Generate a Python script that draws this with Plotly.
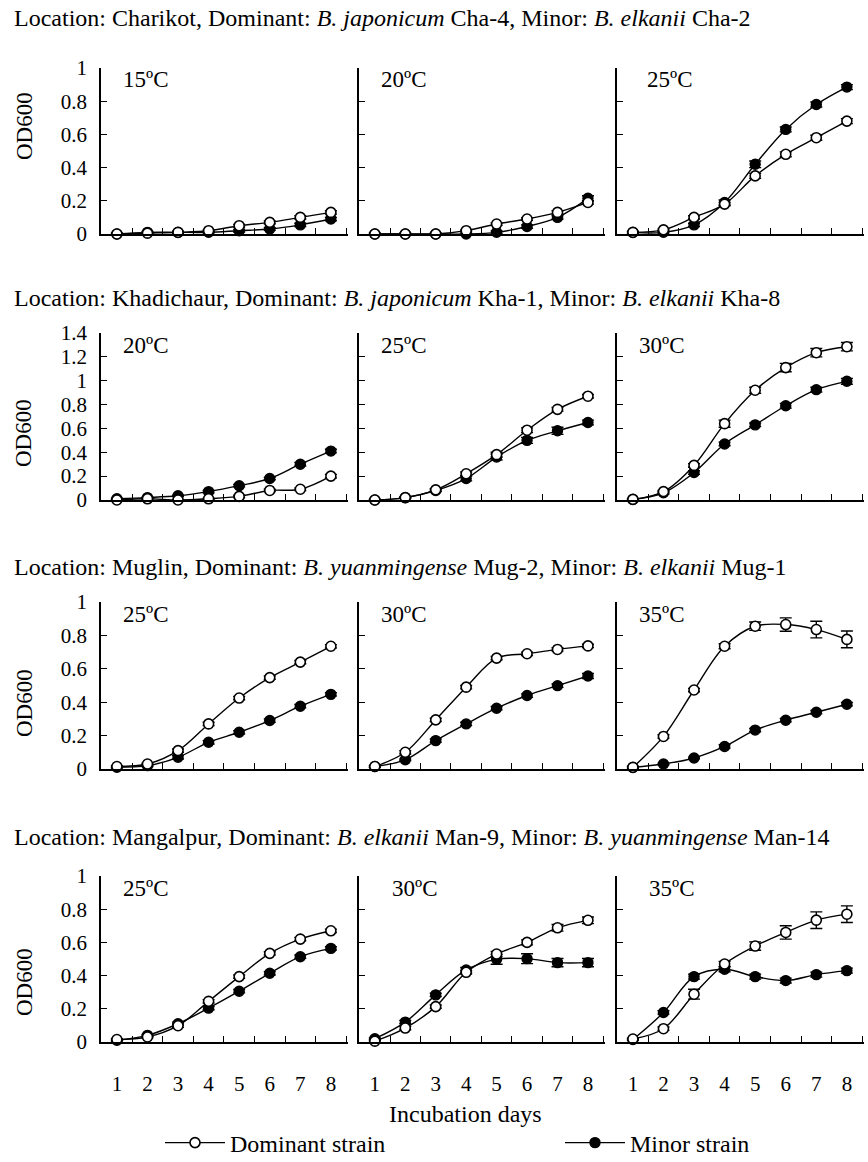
import plotly.graph_objects as go

# ---------------- data ----------------
days = ["1", "2", "3", "4", "5", "6", "7", "8"]

row_titles = [
    "Location: Charikot, Dominant: <i>B. japonicum</i> Cha-4, Minor: <i>B. elkanii</i> Cha-2",
    "Location: Khadichaur, Dominant: <i>B. japonicum</i> Kha-1, Minor: <i>B. elkanii</i> Kha-8",
    "Location: Muglin, Dominant: <i>B. yuanmingense</i> Mug-2, Minor: <i>B. elkanii</i> Mug-1",
    "Location: Mangalpur, Dominant: <i>B. elkanii</i> Man-9, Minor: <i>B. yuanmingense</i> Man-14",
]
temps = [
    ["15ºC", "20ºC", "25ºC"],
    ["20ºC", "25ºC", "30ºC"],
    ["25ºC", "30ºC", "35ºC"],
    ["25ºC", "30ºC", "35ºC"],
]
y_max = [1.0, 1.4, 1.0, 1.0]

# Charikot
cha15_dom = [0.00, 0.005, 0.01, 0.02, 0.05, 0.07, 0.10, 0.13]
cha15_min = [0.00, 0.01, 0.01, 0.01, 0.02, 0.03, 0.055, 0.09]
cha20_dom = [0.00, 0.00, 0.00, 0.02, 0.06, 0.09, 0.13, 0.19]
cha20_min = [0.00, 0.00, 0.00, 0.00, 0.01, 0.045, 0.10, 0.215]
cha25_dom = [0.01, 0.025, 0.10, 0.18, 0.35, 0.48, 0.58, 0.68]
cha25_min = [0.01, 0.01, 0.055, 0.19, 0.42, 0.63, 0.78, 0.885]
cha15_dom_err = [0.005, 0.005, 0.005, 0.005, 0.008, 0.008, 0.010, 0.010]
cha15_min_err = [0.005, 0.005, 0.005, 0.005, 0.008, 0.008, 0.010, 0.010]
cha20_dom_err = [0.005, 0.005, 0.005, 0.005, 0.008, 0.008, 0.010, 0.010]
cha20_min_err = [0.005, 0.005, 0.005, 0.005, 0.008, 0.010, 0.010, 0.015]
cha25_dom_err = [0.005, 0.005, 0.010, 0.010, 0.015, 0.015, 0.015, 0.015]
cha25_min_err = [0.005, 0.005, 0.010, 0.015, 0.020, 0.015, 0.015, 0.015]

# Khadichaur
kha20_dom = [0.00, 0.01, 0.00, 0.01, 0.03, 0.08, 0.09, 0.20]
kha20_min = [0.01, 0.02, 0.035, 0.07, 0.12, 0.18, 0.30, 0.41]
kha25_dom = [0.00, 0.02, 0.085, 0.22, 0.38, 0.585, 0.76, 0.87]
kha25_min = [0.00, 0.02, 0.08, 0.18, 0.36, 0.50, 0.58, 0.65]
kha30_dom = [0.005, 0.07, 0.29, 0.64, 0.92, 1.11, 1.235, 1.285]
kha30_min = [0.005, 0.06, 0.23, 0.47, 0.63, 0.79, 0.925, 0.995]
kha20_dom_err = [0.005, 0.005, 0.005, 0.005, 0.010, 0.010, 0.010, 0.015]
kha20_min_err = [0.005, 0.005, 0.005, 0.010, 0.010, 0.010, 0.015, 0.015]
kha25_dom_err = [0.005, 0.005, 0.010, 0.015, 0.020, 0.020, 0.015, 0.015]
kha25_min_err = [0.005, 0.005, 0.010, 0.020, 0.025, 0.025, 0.030, 0.020]
kha30_dom_err = [0.005, 0.010, 0.015, 0.030, 0.025, 0.035, 0.035, 0.035]
kha30_min_err = [0.005, 0.010, 0.015, 0.015, 0.015, 0.020, 0.020, 0.025]

# Muglin
mug25_dom = [0.015, 0.03, 0.11, 0.27, 0.425, 0.547, 0.64, 0.735]
mug25_min = [0.01, 0.02, 0.07, 0.16, 0.22, 0.29, 0.376, 0.447]
mug30_dom = [0.015, 0.10, 0.294, 0.49, 0.664, 0.69, 0.716, 0.737]
mug30_min = [0.015, 0.055, 0.17, 0.27, 0.364, 0.44, 0.499, 0.557]
mug35_dom = [0.01, 0.195, 0.473, 0.735, 0.855, 0.865, 0.835, 0.776]
mug35_min = [0.01, 0.03, 0.066, 0.135, 0.233, 0.292, 0.34, 0.388]
mug25_dom_err = [0.005, 0.005, 0.010, 0.010, 0.010, 0.010, 0.010, 0.010]
mug25_min_err = [0.005, 0.005, 0.010, 0.010, 0.010, 0.010, 0.010, 0.010]
mug30_dom_err = [0.005, 0.010, 0.010, 0.010, 0.010, 0.010, 0.010, 0.010]
mug30_min_err = [0.005, 0.005, 0.010, 0.010, 0.010, 0.010, 0.010, 0.015]
mug35_dom_err = [0.005, 0.010, 0.010, 0.015, 0.025, 0.040, 0.050, 0.050]
mug35_min_err = [0.005, 0.005, 0.005, 0.010, 0.010, 0.010, 0.010, 0.010]

# Mangalpur
man25_dom = [0.015, 0.03, 0.098, 0.245, 0.394, 0.534, 0.62, 0.67]
man25_min = [0.01, 0.04, 0.11, 0.204, 0.306, 0.414, 0.514, 0.564]
man30_dom = [0.005, 0.084, 0.213, 0.42, 0.53, 0.60, 0.688, 0.733]
man30_min = [0.02, 0.12, 0.284, 0.434, 0.498, 0.502, 0.478, 0.478]
man35_dom = [0.018, 0.08, 0.288, 0.47, 0.578, 0.66, 0.734, 0.77]
man35_min = [0.015, 0.178, 0.394, 0.438, 0.394, 0.37, 0.406, 0.43]
man25_dom_err = [0.005, 0.005, 0.010, 0.010, 0.010, 0.010, 0.010, 0.010]
man25_min_err = [0.005, 0.005, 0.010, 0.010, 0.010, 0.010, 0.010, 0.010]
man30_dom_err = [0.005, 0.010, 0.010, 0.010, 0.015, 0.015, 0.020, 0.020]
man30_min_err = [0.005, 0.010, 0.010, 0.015, 0.030, 0.030, 0.025, 0.025]
man35_dom_err = [0.005, 0.010, 0.030, 0.015, 0.025, 0.040, 0.050, 0.050]
man35_min_err = [0.005, 0.010, 0.015, 0.015, 0.015, 0.015, 0.015, 0.015]

panels = [
    [(cha15_dom, cha15_dom_err, cha15_min, cha15_min_err),
     (cha20_dom, cha20_dom_err, cha20_min, cha20_min_err),
     (cha25_dom, cha25_dom_err, cha25_min, cha25_min_err)],
    [(kha20_dom, kha20_dom_err, kha20_min, kha20_min_err),
     (kha25_dom, kha25_dom_err, kha25_min, kha25_min_err),
     (kha30_dom, kha30_dom_err, kha30_min, kha30_min_err)],
    [(mug25_dom, mug25_dom_err, mug25_min, mug25_min_err),
     (mug30_dom, mug30_dom_err, mug30_min, mug30_min_err),
     (mug35_dom, mug35_dom_err, mug35_min, mug35_min_err)],
    [(man25_dom, man25_dom_err, man25_min, man25_min_err),
     (man30_dom, man30_dom_err, man30_min, man30_min_err),
     (man35_dom, man35_dom_err, man35_min, man35_min_err)],
]

# ---------------- layout geometry (pixels) ----------------
W, H = 868, 1162
FONT = "Liberation Serif"
col_px = [(101, 348), (359, 605), (617, 864)]
row_px = [(68, 234), (333, 500), (602, 769), (876, 1042)]
title_y_px = [18, 298, 567, 837]
ylab_y_px = [126, 433, 703, 982]
temp_dx_px = [[20, 20, 28], [20, 20, 20], [20, 20, 20], [20, 31, 30]]


def fx(p):
    return p / W


def fy(p):
    return 1 - p / H


fig = go.Figure()
legend_common = dict(
    orientation="h", yanchor="middle", xanchor="left",
    font=dict(family=FONT, size=24, color="black"),
    itemwidth=60, bgcolor="rgba(0,0,0,0)",
)
layout = dict(
    width=W, height=H,
    margin=dict(l=0, r=0, t=0, b=0, pad=0, autoexpand=False),
    paper_bgcolor="white", plot_bgcolor="white",
    font=dict(family=FONT, color="black", size=21),
    showlegend=True,
    legend=dict(x=fx(160), y=fy(1143), **legend_common),
    legend2=dict(x=fx(560), y=fy(1143), **legend_common),
)
annotations = []

line_style = dict(color="black", width=1.4, shape="spline", smoothing=1.0)

for r in range(4):
    for c in range(3):
        k = r * 3 + c + 1
        xa = "x" if k == 1 else f"x{k}"
        ya = "y" if k == 1 else f"y{k}"
        dom, dom_err, mnr, mnr_err = panels[r][c]
        first = (k == 1)
        fig.add_trace(go.Scatter(
            x=days, y=mnr, xaxis=xa, yaxis=ya, mode="lines+markers",
            name="Minor strain", showlegend=first, legend="legend2",
            line=line_style, cliponaxis=False,
            marker=dict(symbol="circle", size=10, color="black",
                        line=dict(color="black", width=1.4)),
            error_y=dict(type="data", array=mnr_err, visible=True,
                         color="black", thickness=1.4, width=6),
        ))
        fig.add_trace(go.Scatter(
            x=days, y=dom, xaxis=xa, yaxis=ya, mode="lines+markers",
            name="Dominant strain", showlegend=first, legend="legend",
            line=line_style, cliponaxis=False,
            marker=dict(symbol="circle", size=10, color="white",
                        line=dict(color="black", width=1.6)),
            error_y=dict(type="data", array=dom_err, visible=True,
                         color="black", thickness=1.4, width=6),
        ))

        x0, x1 = col_px[c]
        y0, y1 = row_px[r]
        xname = "xaxis" if k == 1 else f"xaxis{k}"
        yname = "yaxis" if k == 1 else f"yaxis{k}"
        layout[xname] = dict(
            domain=[fx(x0), fx(x1)], anchor=ya, type="category",
            categoryorder="array", categoryarray=days,
            range=[-0.52, 7.56], tickson="boundaries",
            ticks="inside", ticklen=6, tickwidth=1.3, tickcolor="black",
            showline=True, linecolor="black", linewidth=1.6,
            showgrid=False, zeroline=False, fixedrange=True, automargin=False,
            showticklabels=(r == 3), ticklabelstandoff=22,
            tickfont=dict(family=FONT, size=21, color="black"),
        )
        layout[yname] = dict(
            domain=[fy(y1), fy(y0)], anchor=xa,
            range=[0, y_max[r]], dtick=0.2, tick0=0,
            ticks="inside", ticklen=6, tickwidth=1.3, tickcolor="black",
            showline=True, linecolor="black", linewidth=1.6,
            showgrid=False, zeroline=False, fixedrange=True, automargin=False,
            showticklabels=(c == 0), ticklabelstandoff=8,
            tickfont=dict(family=FONT, size=21, color="black"),
        )
        annotations.append(dict(
            text=temps[r][c], xref="paper", yref="paper",
            x=fx(x0 + temp_dx_px[r][c]), y=fy(y0 + 12),
            xanchor="left", yanchor="middle", showarrow=False,
            font=dict(family=FONT, size=23, color="black"),
        ))

    annotations.append(dict(
        text=row_titles[r], xref="paper", yref="paper",
        x=fx(12), y=fy(title_y_px[r]), xanchor="left", yanchor="middle",
        showarrow=False, font=dict(family=FONT, size=24, color="black"),
    ))
    annotations.append(dict(
        text="OD600", xref="paper", yref="paper", textangle=-90,
        x=fx(24), y=fy(ylab_y_px[r]), xanchor="center", yanchor="middle",
        showarrow=False, font=dict(family=FONT, size=23, color="black"),
    ))

annotations.append(dict(
    text="Incubation days", xref="paper", yref="paper",
    x=fx(466), y=fy(1114), xanchor="center", yanchor="middle",
    showarrow=False, font=dict(family=FONT, size=24, color="black"),
))

layout["annotations"] = annotations
fig.update_layout(**layout)
fig.write_html(
    "out.html",
    config={"displayModeBar": False},
    post_script=(
        "document.documentElement.style.margin='0';"
        "document.documentElement.style.overflow='hidden';"
        "document.body.style.margin='0';"
        "document.body.style.overflow='hidden';"
        "var gd=document.getElementById('{plot_id}');"
        "gd.style.position='fixed';gd.style.top='0px';gd.style.left='0px';"
    ),
)
